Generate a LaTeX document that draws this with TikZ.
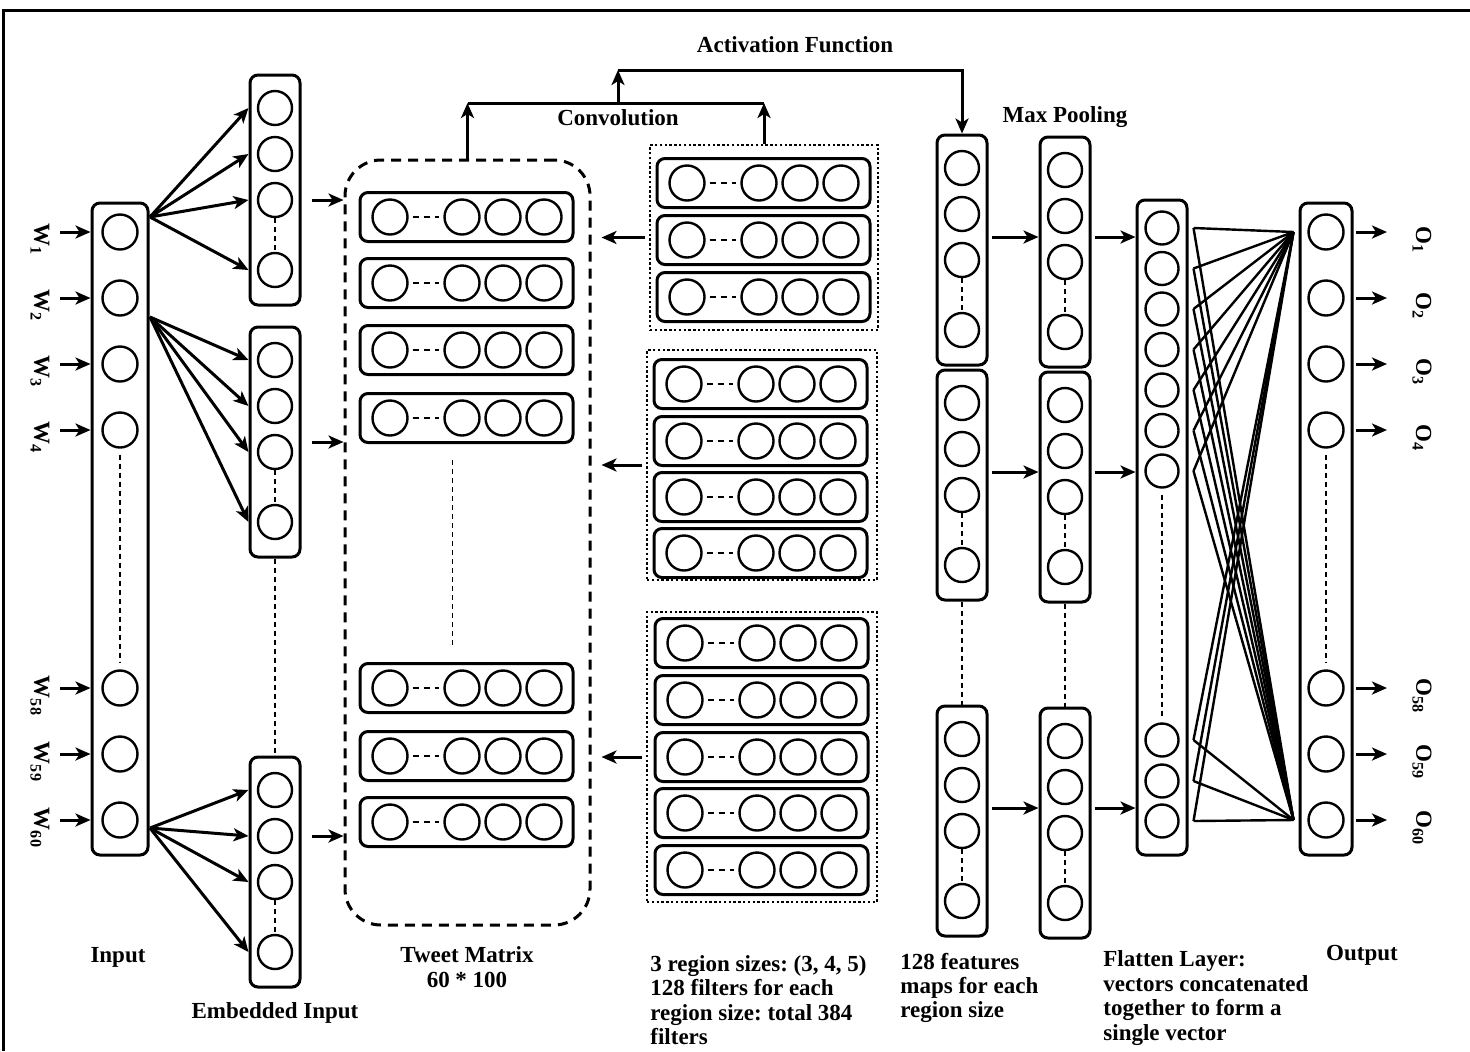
\documentclass[tikz,border=0pt]{standalone}
\usepackage{fontspec}
\setmainfont{Liberation Serif}
\usetikzlibrary{arrows.meta,calc}
\frenchspacing

\tikzset{
	neuron/.style={circle, draw, line width=1.2pt, minimum size=17.5pt, inner sep=0pt},
	layerbox/.style={draw, rounded corners=4pt, line width=1.5pt, minimum width=25pt, inner sep=0pt},
	rowbox/.style={draw, rounded corners=4pt, line width=1.5pt, minimum width=106.5pt, minimum height=24.5pt, inner sep=0pt},
	grpbox/.style={draw, line width=1.4pt, dash pattern=on 1.2pt off 1.2pt, inner sep=0pt},
	gapline/.style={line width=0.7pt, dash pattern=on 2.5pt off 2pt},
	rowgap/.style={line width=0.8pt, dash pattern=on 3pt off 2.5pt, shorten <=2pt, shorten >=2pt},
	arrw/.style={line width=1.5pt, -{Stealth[length=7.5pt, width=6.5pt, inset=2pt]}},
	fcline/.style={line width=1.2pt},
	lbl/.style={font=\bfseries\fontsize{11.5}{12.2}\selectfont, inner sep=0pt},
}

% column of four units: name, x, top
\def\featcol#1#2#3{%
	\node[layerbox, minimum height=115pt] (#1) at (#2,#3+115) {};
	\foreach \dy [count=\k] in {33,79,125,195}
		\node[neuron, minimum size=17pt] (#1-\k) at (#2,#3+\dy) {};
	\draw[gapline] (#1-3.south) -- (#1-4.north);
	\coordinate (#1-m) at ($(#1-2)!0.5!(#1-3)$);
}
% row of four units: name, left x, y
\def\rowvec#1#2#3{%
	\node[rowbox] (#1) at (#2+106.5,#3) {};
	\foreach \dx [count=\k] in {30,102,143,184}
		\node[neuron] (#1-\k) at (#2+\dx,#3) {};
	\draw[rowgap] (#1-1.east) -- (#1-2.west);
}

\begin{document}
\begin{tikzpicture}[x=0.5pt, y=-0.5pt]
	%%%%% START %%%%%
	\useasboundingbox (0,0) rectangle (1470,1051);
	\draw[line width=1.5pt] (3,1051) -- (3,10) -- (1470,10);
	
	% input layer
	\node[layerbox, minimum width=28pt, minimum height=326pt] (inbox) at (120,529) {};
	\foreach \y/\w [count=\i] in {232/1,298/2,364/3,430/4,688/58,754/59,820/60} {
		\node[neuron] (in\i) at (120,\y) {};
		\node[lbl, rotate=-90] (w\i) at (40,\y+8) {W\textsubscript{\w}};
		\coordinate (wa\i) at (60,\y);
		\draw[arrw] (wa\i) -- (in\i -| inbox.west);
	}
	\draw[gapline, shorten <=3pt, shorten >=3pt] (in4.south) -- (in5.north);
	
	% embedded input
	\featcol{emb1}{275}{75}
	\featcol{emb2}{275}{327}
	\featcol{emb3}{275}{757}
	\draw[gapline] (emb2.south) -- (emb3.north);
	
	\coordinate (fan1) at (150,217);
	\coordinate (fan2) at (150,317);
	\coordinate (fan3) at (150,828);
	\foreach \f in {1,2,3}
		\foreach \k in {1,...,4}
			\draw[arrw] (fan\f) -- (emb\f-\k -| emb\f.west);
	
	% tweet matrix
	\node[draw, line width=1.5pt, dash pattern=on 5pt off 3.5pt, rounded corners=18pt, minimum width=122.5pt, minimum height=382.5pt] (tweet) at (467.5,542.5) {};
	\foreach \y [count=\i] in {217,283,350,418,688,756,822} {
		\rowvec{t\i}{360}{\y}
	}
	\draw[gapline, shorten <=8pt, shorten >=8pt] ($(t4.south)+(-14,0)$) -- ($(t5.north)+(-14,0)$);
	
	\draw[arrw] ($(emb1-3 -| emb1.east)+(10,0)$) -- (emb1-3 -| tweet.west);
	\draw[arrw] ($(emb2.east)+(10,0)$) -- (emb2 -| tweet.west);
	\draw[arrw] ($(emb3-2 -| emb3.east)+(10,0)$) -- (emb3-2 -| tweet.west);
	
	% filters
	\node[grpbox, minimum width=114pt, minimum height=92.5pt] (grp1) at (764,237.5) {};
	\node[grpbox, minimum width=115pt, minimum height=115pt] (grp2) at (762,465) {};
	\node[grpbox, minimum width=115pt, minimum height=145pt] (grp3) at (762,757) {};
	\foreach \y [count=\i] in {183,240,297} {
		\rowvec{fa\i}{657}{\y}
	}
	\foreach \y [count=\i] in {384,441,497,553} {
		\rowvec{fb\i}{654}{\y}
	}
	\foreach \y [count=\i] in {643,700,757,813,870} {
		\rowvec{fc\i}{655}{\y}
	}
	\foreach \g in {1,2,3}
		\draw[arrw] ($(grp\g.west)+(-4,0)$) -- ($(grp\g.west -| tweet.east)+(10,0)$);
	
	% convolution + activation
	\coordinate (cm) at (618,103);
	\coordinate (ca) at (618,70);
	\coordinate (cl) at (tweet.north |- cm);
	\coordinate (cr) at (grp1.north |- cm);
	\draw[line width=1.5pt] (cl) -- (cr);
	\draw[arrw] (tweet.north) -- (cl);
	\draw[arrw] (grp1.north) -- (cr);
	\draw[arrw] (cm) -- (ca);
	\node[lbl] (conv) at (618,118) {Convolution};
	\node[lbl] (act) at (795,45) {Activation Function};
	
	% feature maps and max pooling
	\featcol{A1}{962}{135}
	\featcol{A2}{962}{370}
	\featcol{A3}{962}{706}
	\featcol{B1}{1065}{137}
	\featcol{B2}{1065}{372}
	\featcol{B3}{1065}{708}
	\draw[gapline] (A2.south) -- (A3.north);
	\draw[gapline] (B2.south) -- (B3.north);
	\draw[arrw] (ca) -| (A1.north);
	\node[lbl] (pool) at (1065,117) {Max Pooling};
	
	% flatten layer
	\node[layerbox, minimum height=327.5pt] (flat) at (1162,527.5) {};
	\foreach \y [count=\i] in {228,268.5,309,349.5,390,430.5,471,740,781,821}
		\node[neuron, minimum size=16.5pt] (fl\i) at (1162,\y) {};
	\draw[gapline, shorten <=3pt, shorten >=3pt] (fl7.south) -- (fl8.north);
	
	\foreach \r in {1,2,3} {
		\draw[arrw] ($(A\r-m -| A\r.east)+(3,0)$) -- (A\r-m -| B\r.west);
		\draw[arrw] ($(A\r-m -| B\r.east)+(3,0)$) -- (A\r-m -| flat.west);
	}
	
	% output layer
	\node[layerbox, minimum width=26pt, minimum height=326pt] (outbox) at (1326,529) {};
	\foreach \y/\o [count=\i] in {232/1,298/2,364/3,430/4,688/58,754/59,820/60} {
		\node[neuron] (out\i) at (1326,\y) {};
		\coordinate (oa\i) at (1387,\y);
		\draw[arrw] ($(out\i -| outbox.east)+(2,0)$) -- (oa\i);
		\node[lbl, rotate=-90] (o\i) at (1422,\y+8) {O\textsubscript{\o}};
	}
	\draw[gapline, shorten <=3pt, shorten >=3pt] (out4.south) -- (out5.north);
	
	\foreach \i in {1,...,10} {
		\draw[fcline] ($(fl\i -| flat.east)+(5,0)$) -- ($(out1 -| outbox.west)+(-5,0)$);
		\draw[fcline] ($(fl\i -| flat.east)+(5,0)$) -- ($(out7 -| outbox.west)+(-5,0)$);
	}
	
	% captions
	\node[lbl] (linput) at (118,957) {Input};
	\node[lbl] (lemb) at (275,1013) {Embedded Input};
	\node[lbl, align=center] (ltweet) at (467,967) {Tweet Matrix\\60 * 100};
	\node[lbl, align=left, anchor=west] (lfilt) at (650,1000) {3 region sizes: (3, 4, 5)\\128 filters for each\\region size: total 384\\filters};
	\node[lbl, align=left, anchor=west] (lfeat) at (900,988) {128 features\\maps for each\\region size};
	\node[lbl, align=left, anchor=west] (lflat) at (1103,998) {Flatten Layer:\\vectors concatenated\\together to form a\\single vector};
	\node[lbl] (lout) at (1362,955) {Output};
	
	%%%%% END %%%%%
\end{tikzpicture}
\end{document}
